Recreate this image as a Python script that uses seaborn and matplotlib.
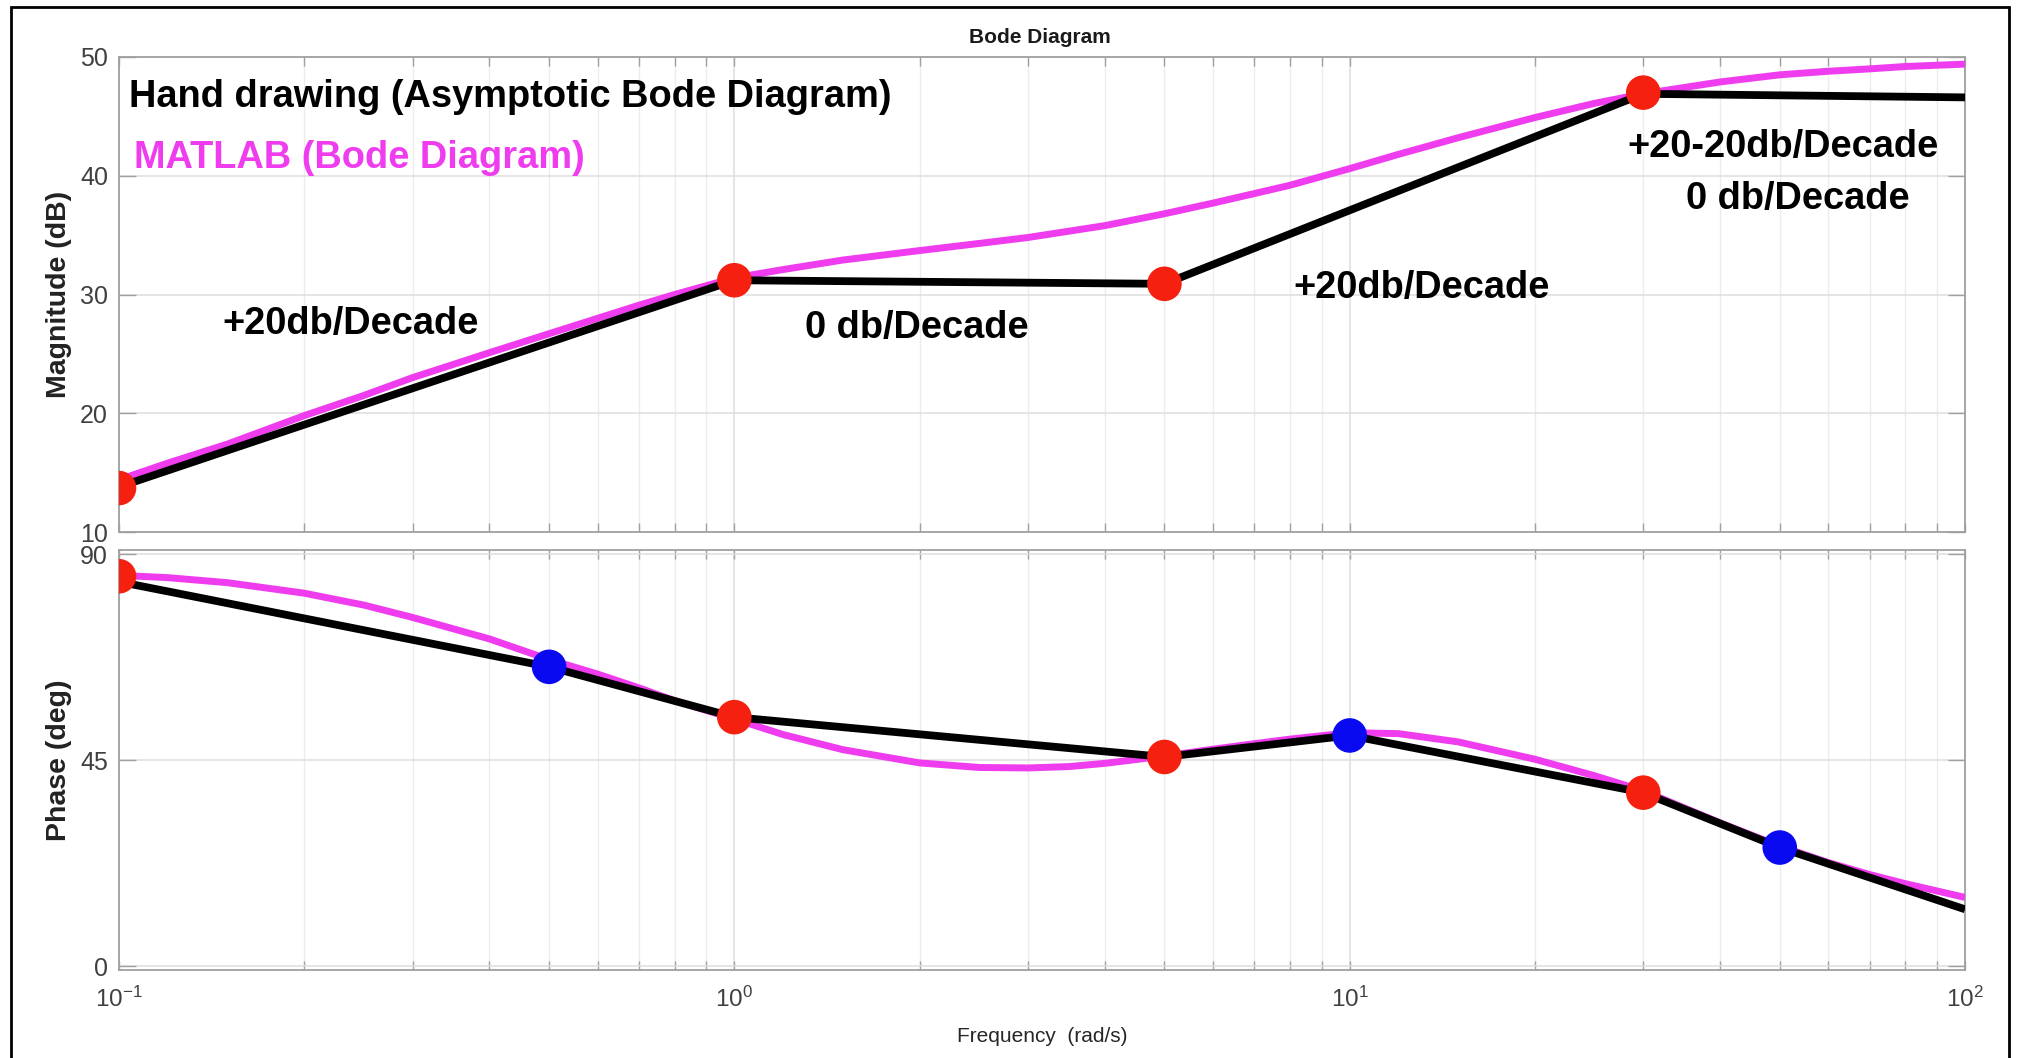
import matplotlib
matplotlib.use("Agg")
import matplotlib.pyplot as plt
import seaborn as sns
from matplotlib.patches import Rectangle
from matplotlib.ticker import LogLocator, LogFormatterSciNotation, NullFormatter, FixedLocator

# ---------------- data ----------------
mag_hand_freq = [0.1, 1, 5, 30, 100]
mag_hand_db = [13.8, 31.2, 30.9, 46.9, 46.6]

mag_red_freq = [0.1, 1, 5, 30]
mag_red_db = [13.7, 31.2, 30.9, 47.0]

mag_matlab_freq = [0.1, 0.12, 0.15, 0.2, 0.25, 0.3, 0.4, 0.5, 0.6, 0.7, 0.8, 1, 1.2, 1.5, 2, 2.5, 3, 4, 5,
                   6, 7, 8, 10, 12, 15, 20, 25, 30, 40, 50, 60, 70, 80, 100]
mag_matlab_db = [14.4, 15.8, 17.4, 19.8, 21.5, 23.0, 25.1, 26.7, 28.0, 29.1, 30.0, 31.4, 32.1, 32.9, 33.7, 34.3, 34.8, 35.8, 36.8,
                 37.7, 38.5, 39.2, 40.6, 41.8, 43.2, 44.9, 46.1, 46.9, 47.9, 48.5, 48.8, 49.0, 49.2, 49.4]

phase_hand_freq = [0.1, 0.5, 1, 5, 10, 30, 50, 100]
phase_hand_deg = [84.0, 65.4, 54.4, 45.7, 50.4, 37.9, 25.9, 12.4]

phase_red_freq = [0.1, 1, 5, 30]
phase_red_deg = [85.2, 54.4, 45.7, 37.9]

phase_blue_freq = [0.5, 10, 50]
phase_blue_deg = [65.4, 50.4, 25.9]

phase_matlab_freq = [0.1, 0.12, 0.15, 0.2, 0.25, 0.3, 0.4, 0.5, 0.6, 0.7, 0.8, 1, 1.2, 1.5, 2, 2.5, 3, 3.5, 4, 5,
                     6, 7, 8, 10, 12, 15, 20, 25, 30, 40, 50, 60, 70, 80, 100]
phase_matlab_deg = [85.4, 84.9, 83.8, 81.5, 78.9, 76.2, 71.5, 67.0, 63.8, 60.8, 58.0, 54.0, 50.6, 47.3, 44.4, 43.4, 43.3, 43.6, 44.3, 45.9,
                    47.4, 48.6, 49.6, 51.0, 50.8, 49.0, 45.2, 41.6, 38.3, 31.3, 26.2, 22.6, 20.0, 18.0, 15.0]

mag_yticks = [10, 20, 30, 40, 50]
phase_yticks = [0, 45, 90]

annotations = [
    ("Hand drawing (Asymptotic Bode Diagram)", "black"),
    ("MATLAB (Bode Diagram)", "magenta"),
    ("+20db/Decade", "black"),
    ("0 db/Decade", "black"),
    ("+20db/Decade", "black"),
    ("+20-20db/Decade", "black"),
    ("0 db/Decade", "black"),
]

# ---------------- style ----------------
sns.set_theme(style="white")
plt.rcParams['font.family'] = ['Liberation Sans', 'DejaVu Sans']
plt.rcParams['mathtext.default'] = 'regular'
plt.rcParams['axes.unicode_minus'] = False

MAGENTA = '#ee3cee'
RED = '#f5200f'
BLUE = '#0a0af0'
SPINE = '#a0a0a0'
TICKLAB = '#404040'

W, H = 2020, 1058
fig = plt.figure(figsize=(W / 100, H / 100), dpi=100)
fig.patch.set_facecolor('white')

L, R = 119, 1965
ax1 = fig.add_axes([L / W, 1 - 532 / H, (R - L) / W, (532 - 57) / H])
ax2 = fig.add_axes([L / W, 1 - 970 / H, (R - L) / W, (970 - 550) / H])

LW_M = 5.0
LW_B = 5.6
S_DOT = 620

# magnitude
sns.lineplot(x=mag_matlab_freq, y=mag_matlab_db, ax=ax1, color=MAGENTA, lw=LW_M, sort=False, estimator=None, zorder=3)
sns.lineplot(x=mag_hand_freq, y=mag_hand_db, ax=ax1, color='black', lw=LW_B, sort=False, estimator=None, zorder=4)
sns.scatterplot(x=mag_red_freq, y=mag_red_db, ax=ax1, color=RED, s=S_DOT, edgecolor='none', zorder=5)

# phase
sns.lineplot(x=phase_matlab_freq, y=phase_matlab_deg, ax=ax2, color=MAGENTA, lw=LW_M, sort=False, estimator=None, zorder=3)
sns.lineplot(x=phase_hand_freq, y=phase_hand_deg, ax=ax2, color='black', lw=LW_B, sort=False, estimator=None, zorder=4)
sns.scatterplot(x=phase_red_freq, y=phase_red_deg, ax=ax2, color=RED, s=S_DOT, edgecolor='none', zorder=5)
sns.scatterplot(x=phase_blue_freq, y=phase_blue_deg, ax=ax2, color=BLUE, s=S_DOT, edgecolor='none', zorder=5)

for ax in (ax1, ax2):
    for ln in ax.get_lines():
        ln.set_solid_joinstyle('round')
        ln.set_solid_capstyle('butt')
    ax.set_xscale('log')
    ax.set_xlim(0.1, 100)
    ax.xaxis.set_major_locator(LogLocator(base=10, numticks=10))
    ax.xaxis.set_minor_locator(LogLocator(base=10, subs=[2, 3, 4, 5, 6, 7, 8, 9], numticks=20))
    ax.xaxis.set_minor_formatter(NullFormatter())
    ax.set_axisbelow(True)
    ax.grid(True, which='major', axis='both', color='#dedede', lw=1.1)
    ax.grid(True, which='minor', axis='x', color='#ececec', lw=1.0)
    for sp in ax.spines.values():
        sp.set_visible(True)
        sp.set_color(SPINE)
        sp.set_linewidth(1.3)
    ax.tick_params(axis='x', which='both', direction='in', top=True, bottom=True,
                   length=6.5, width=1.0, color=SPINE, labelcolor=TICKLAB, labelsize=17.5, pad=12)
    ax.tick_params(axis='y', which='major', direction='in', left=True, right=True,
                   length=12, width=1.0, color=SPINE, labelcolor=TICKLAB, labelsize=18, pad=8)
    ax.set_xlabel('')
    ax.set_ylabel('')

ax1.set_ylim(10, 50)
ax1.yaxis.set_major_locator(FixedLocator(mag_yticks))
ax1.tick_params(axis='x', labelbottom=False)

ax2.set_ylim(-0.87, 90.94)
ax2.yaxis.set_major_locator(FixedLocator(phase_yticks))
ax2.xaxis.set_major_formatter(LogFormatterSciNotation())

# axis labels
ax1.set_ylabel('Magnitude (dB)', fontsize=20.5, fontweight='bold', color='#222222')
ax1.yaxis.set_label_coords((59 - L) / (R - L), 0.5)
ax1.yaxis.label.set_verticalalignment('center')
ax2.set_ylabel('Phase (deg)', fontsize=20.5, fontweight='bold', color='#222222')
ax2.yaxis.set_label_coords((59 - L) / (R - L), 0.5)
ax2.yaxis.label.set_verticalalignment('center')
ax2.set_xlabel('Frequency  (rad/s)', fontsize=15, color='#262626')
ax2.xaxis.set_label_coords(0.5, (970 - 1036) / (970 - 550))
ax2.xaxis.label.set_verticalalignment('center')

fig.text(1040 / W, 1 - 43 / H, 'Bode Diagram', ha='center', va='baseline',
         fontsize=15, fontweight='bold', color='#1a1a1a')

# annotations (positions in axes fraction of magnitude axes)
ann_pos = [(0.0054, 0.895), (0.0081, 0.766), (0.0558, 0.417), (0.3716, 0.409),
           (0.636, 0.493), (0.817, 0.789), (0.849, 0.680)]
for (txt, col), (x, y) in zip(annotations, ann_pos):
    ax1.text(x, y, txt, transform=ax1.transAxes, ha='left', va='baseline',
             fontsize=27.4, fontweight='bold', color=(MAGENTA if col == 'magenta' else 'black'), zorder=6)

# outer frame
fig.add_artist(Rectangle((10.5 / W, -0.02), (2009 - 10.5) / W, 1.02 - 7 / H,
                         transform=fig.transFigure, fill=False, lw=2.0, ec='black'))

fig.savefig('out.png', dpi=100, facecolor='white')
